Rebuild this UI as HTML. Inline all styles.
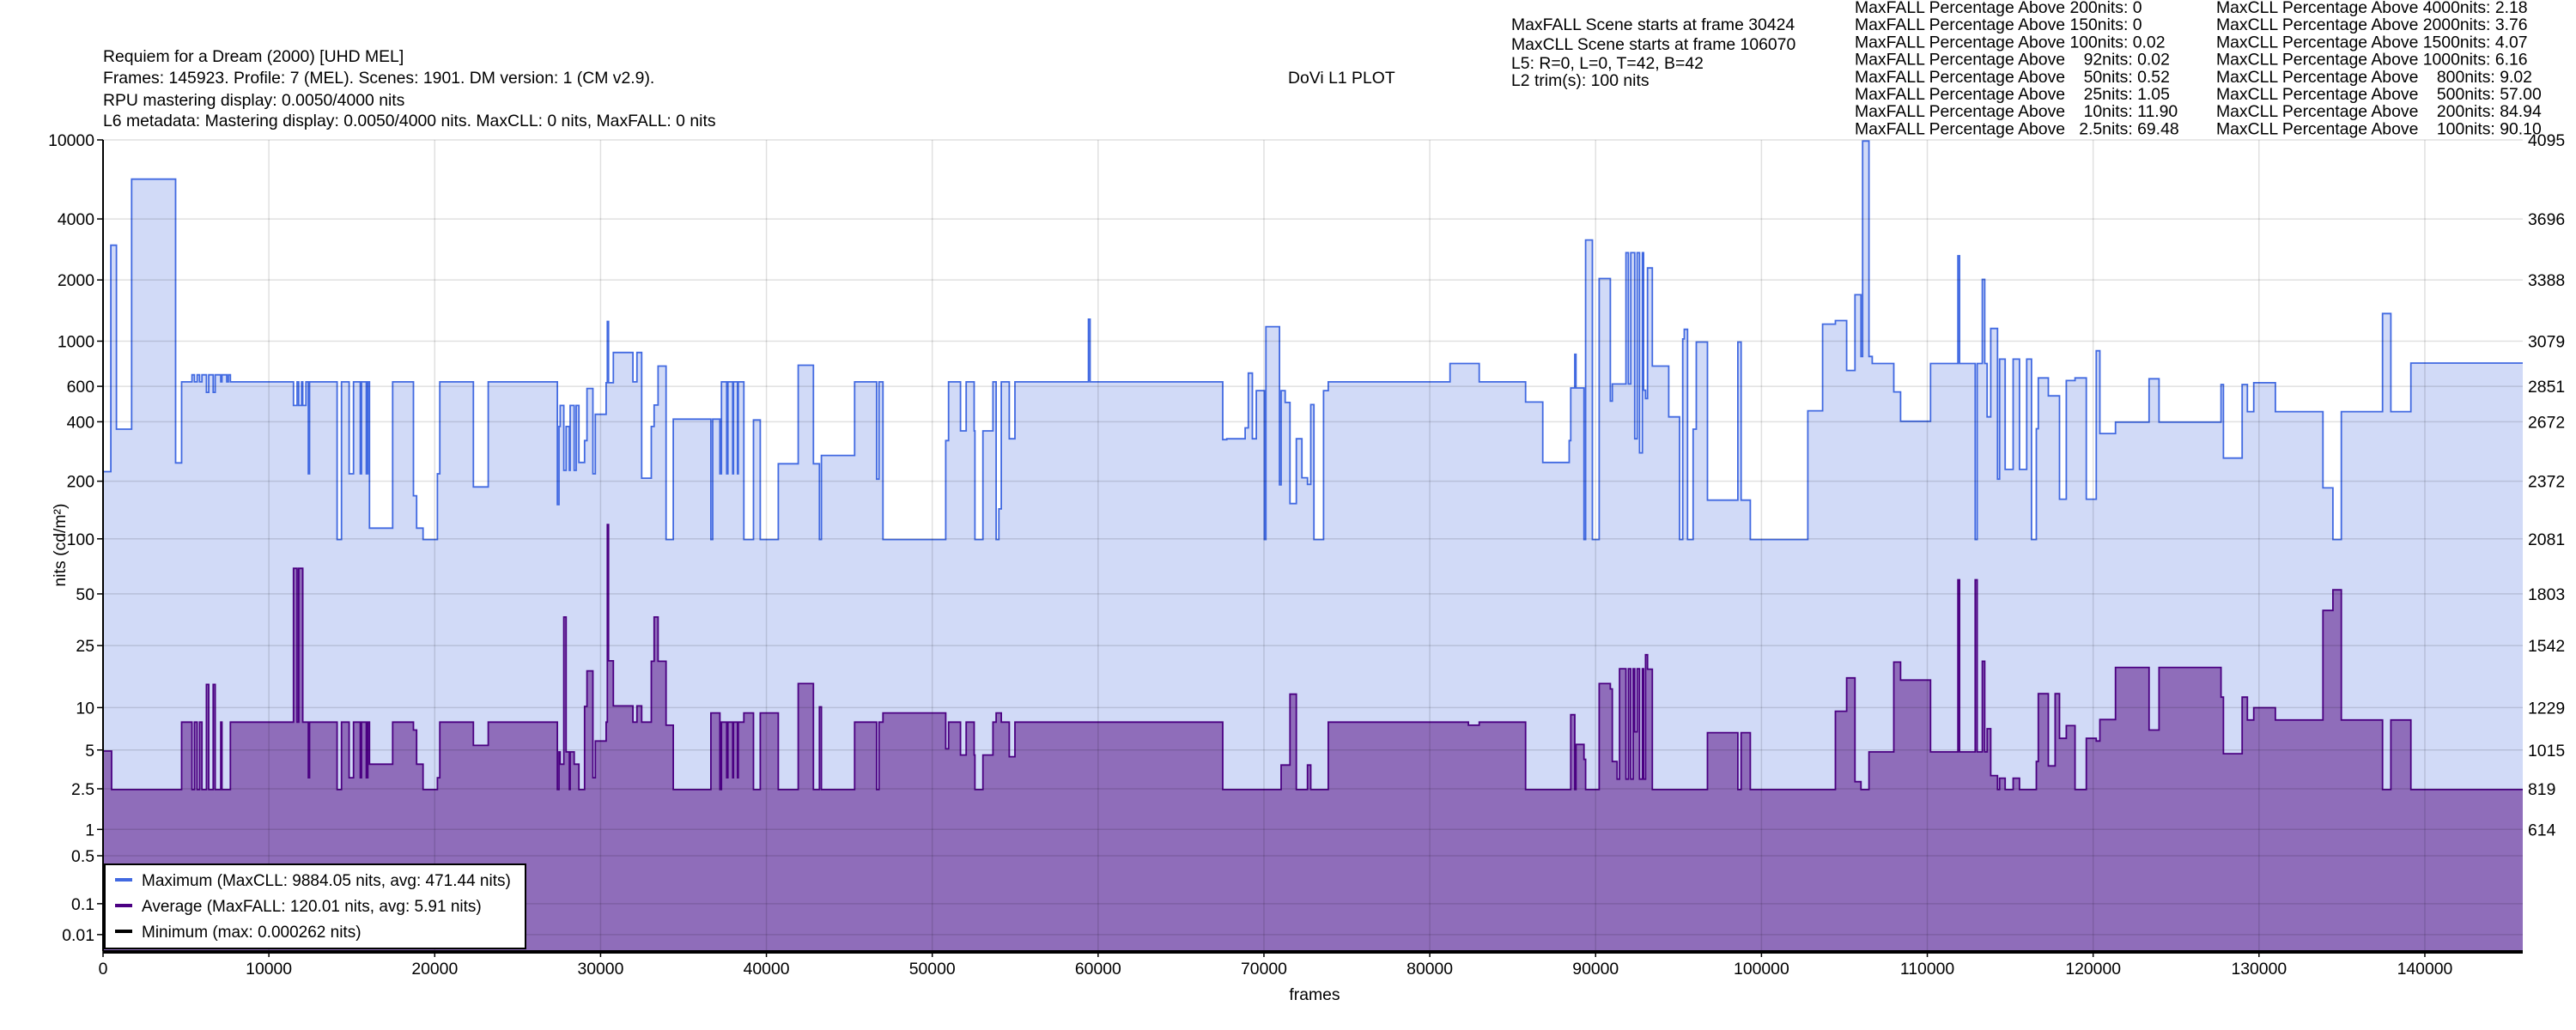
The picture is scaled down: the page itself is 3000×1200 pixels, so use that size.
<!DOCTYPE html>
<html><head><meta charset="utf-8"><style>
html,body{margin:0;padding:0;background:#fff;}
svg{display:block;font-family:"Liberation Sans",Arial,sans-serif;}
</style></head><body>
<svg id="s" width="3000" height="1200" viewBox="0 0 3000 1200" xmlns="http://www.w3.org/2000/svg">
<rect width="3000" height="1200" fill="#fff"/>
<g id="data"></g>
<g id="grid"></g>
<g id="axes"></g>
<g font-size="19.4" fill="#000">
<text x="120" y="72">Requiem for a Dream (2000) [UHD MEL]</text>
<text x="120" y="97">Frames: 145923. Profile: 7 (MEL). Scenes: 1901. DM version: 1 (CM v2.9).</text>
<text x="120" y="123">RPU mastering display: 0.0050/4000 nits</text>
<text x="120" y="147">L6 metadata: Mastering display: 0.0050/4000 nits. MaxCLL: 0 nits, MaxFALL: 0 nits</text>
<text x="1500" y="97">DoVi L1 PLOT</text>
<text x="1760" y="35">MaxFALL Scene starts at frame 30424</text>
<text x="1760" y="58">MaxCLL Scene starts at frame 106070</text>
<text x="1760" y="80">L5: R=0, L=0, T=42, B=42</text>
<text x="1760" y="100">L2 trim(s): 100 nits</text>
</g>
<g font-size="19.4" fill="#000" id="stats"></g>
<g id="legend">
<rect x="122" y="1007" width="490" height="98" fill="#fff" stroke="#000" stroke-width="2"/>
<line x1="134" y1="1025" x2="154" y2="1025" stroke="#4169e1" stroke-width="4"/>
<line x1="134" y1="1055" x2="154" y2="1055" stroke="#4b0082" stroke-width="4"/>
<line x1="134" y1="1085" x2="154" y2="1085" stroke="#000" stroke-width="4"/>
<text x="165" y="1032" font-size="19">Maximum (MaxCLL: 9884.05 nits, avg: 471.44 nits)</text>
<text x="165" y="1062" font-size="19">Average (MaxFALL: 120.01 nits, avg: 5.91 nits)</text>
<text x="165" y="1092" font-size="19">Minimum (max: 0.000262 nits)</text>
</g>
<text x="1531" y="1165" font-size="19.4" text-anchor="middle">frames</text>
<text transform="translate(76,635) rotate(-90)" font-size="19.4" text-anchor="middle">nits (cd/m²)</text>
</svg>
<script>
(function(){
var NS="http://www.w3.org/2000/svg";
function el(p,t,a,txt){var e=document.createElementNS(NS,t);for(var k in a)e.setAttribute(k,a[k]);if(txt!=null)e.textContent=txt;p.appendChild(e);return e;}
var L=120,R=2938,T=163,B=1108,H=945;
function yc(c){return T+(4095-c)/4095*H;}
var ticks=[["10000",4095,1],["4000",3696,1],["2000",3388,1],["1000",3079,1],["600",2851,1],["400",2672,1],["200",2372,1],["100",2081,1],["50",1803,1],["25",1542,1],["10",1229,1],["5",1015,1],["2.5",819,1],["1",614,1],["0.5",481,0],["0.1",239,0],["0.01",83,0]];
var grid=document.getElementById("grid"),axes=document.getElementById("axes");
ticks.forEach(function(t){var y=yc(t[1]);
 el(grid,"line",{x1:L,x2:R,y1:y,y2:y,stroke:"rgba(0,0,0,0.12)","stroke-width":1.5});
 el(axes,"line",{x1:L-7,x2:L,y1:y,y2:y,stroke:"#000","stroke-width":1.5});
 el(axes,"text",{x:L-10,y:y+7,"font-size":19.4,"text-anchor":"end"},t[0]);
 if(t[2])el(axes,"text",{x:2944,y:y+7,"font-size":19.4},String(t[1]));
});
for(var k=0;k<=14;k++){var x=L+k*193.14;
 el(grid,"line",{x1:x,x2:x,y1:T,y2:B,stroke:"rgba(0,0,0,0.12)","stroke-width":1.5});
 el(axes,"line",{x1:x,x2:x,y1:B,y2:B+7,stroke:"#000","stroke-width":1.5});
 el(axes,"text",{x:x,y:B+27,"font-size":19.4,"text-anchor":"middle"},String(k*10000));
}
el(axes,"line",{x1:L,x2:L,y1:T,y2:B,stroke:"#000","stroke-width":2});
el(axes,"line",{x1:L,x2:R,y1:B+1,y2:B+1,stroke:"#000","stroke-width":4});
var st=document.getElementById("stats");
var a=["MaxFALL Percentage Above 200nits: 0","MaxFALL Percentage Above 150nits: 0","MaxFALL Percentage Above 100nits: 0.02","MaxFALL Percentage Above \u00a0\u00a0\u00a092nits: 0.02","MaxFALL Percentage Above \u00a0\u00a0\u00a050nits: 0.52","MaxFALL Percentage Above \u00a0\u00a0\u00a025nits: 1.05","MaxFALL Percentage Above \u00a0\u00a0\u00a010nits: 11.90","MaxFALL Percentage Above \u00a0\u00a02.5nits: 69.48"];
var b=["MaxCLL Percentage Above 4000nits: 2.18","MaxCLL Percentage Above 2000nits: 3.76","MaxCLL Percentage Above 1500nits: 4.07","MaxCLL Percentage Above 1000nits: 6.16","MaxCLL Percentage Above \u00a0\u00a0\u00a0800nits: 9.02","MaxCLL Percentage Above \u00a0\u00a0\u00a0500nits: 57.00","MaxCLL Percentage Above \u00a0\u00a0\u00a0200nits: 84.94","MaxCLL Percentage Above \u00a0\u00a0\u00a0100nits: 90.10"];
for(var i=0;i<8;i++){var y=15+i*20.2;el(st,"text",{x:2160,y:y},a[i]);el(st,"text",{x:2581,y:y},b[i]);}
var P1=[[21,783,1421],[41,266,1421],[43,266,1509],[55,686,1509],[93,115,1509],[203,763,1509],[218,578,1355],[244,562,1509],[250,578,1355],[257,562,1509],[263,578,1355],[269,562,1509],[280,602,1269],[286,562,1509],[297,602,1269],[302,562,1509],[316,578,1355],[319,562,1509],[331,578,1509],[335,562,1509],[340,578,1355],[498,632,1004],[507,578,1355],[511,632,1004],[518,578,1004],[521,632,1355],[529,578,1355],[535,788,1482],[538,578,1355],[607,938,1509],[618,578,1355],[637,788,1482],[648,578,1355],[665,788,1482],[668,578,1355],[680,788,1482],[684,578,1355],[688,912,1451],[746,578,1355],[798,838,1373],[806,912,1451],[822,938,1509],[858,788,1482],[864,578,1355],[948,818,1408],[985,578,1355],[1158,858,1509],[1162,680,1423],[1165,632,1451],[1174,780,1115],[1180,680,1423],[1188,780,1509],[1190,632,1423],[1200,780,1451],[1205,632,1451],[1212,762,1509],[1226,712,1319],[1232,593,1238],[1247,788,1482],[1253,652,1398],[1280,580,1355],[1283,440,904],[1286,580,1215],[1298,511,1318],[1347,578,1355],[1357,511,1318],[1369,798,1355],[1393,680,1216],[1400,631,1115],[1410,542,1216],[1430,938,1362],[1448,663,1509],[1542,938,1334]];
var P2=[[0,663,1334],[18,788,1509],[22,578,1355],[35,788,1482],[38,578,1355],[50,788,1482],[52,578,1355],[62,788,1482],[64,578,1355],[78,938,1334],[102,665,1509],[119,938,1334],[164,765,1509],[214,540,1267],[252,765,1509],[267,938,1320],[272,746,1509],[355,578,1355],[410,800,1509],[416,578,1355],[426,938,1334],[583,712,1416],[590,578,1355],[620,690,1430],[634,578,1355],[654,690,1430],[656,938,1509],[676,690,1430],[701,578,1355],[709,938,1334],[716,868,1334],[722,578,1355],[742,708,1434],[756,578,1355],[940,435,1355],[944,578,1355],[1276,710,1509],[1286,708,1509],[1332,683,1509],[1340,558,1509],[1350,708,1509],[1360,598,1509],[1380,938,1509],[1384,452,1509],[1418,813,1509],[1422,598,1453],[1432,625,1453],[1444,856,1291],[1460,708,1509],[1474,797,1509],[1488,812,1453],[1496,630,1509],[1504,938,1509],[1528,598,1509],[1540,578,1355]];
var P3=[[0,578,1355],[298,536,1355],[344,536,1362],[371,578,1355],[487,624,1509],[510,624,1509],[530,762,1509],[596,712,1509],[600,592,1338],[610,515,1509],[613,592,1406],[633,938,1440],[637,254,1509],[654,938,1509],[671,342,1267],[699,622,1279],[704,583,1445],[716,583,1485],[722,583,1233],[738,283,1485],[744,583,1233],[750,283,1485],[756,283,1233],[760,708,1377],[766,283,1233],[772,740,1485],[779,283,1233],[782,597,1485],[787,616,1201],[792,318,1234],[804,542,1509],[845,658,1509],[872,938,1509],[880,480,1509],[884,458,1509],[892,938,1509],[906,686,1509],[914,487,1509],[942,848,1379],[1018,487,1509],[1026,848,1379],[1049,938,1509],[1193,644,1509],[1216,644,1509],[1230,446,1509],[1262,438,1330],[1290,552,1254],[1311,379,1491],[1326,520,1509],[1330,28,1509],[1346,520,1423],[1354,536,1423],[1408,601,1218],[1425,668,1259],[1500,536,1423],[1565,472,1331]];
var P4=[[0,536,1423],[22,290,1030],[26,536,1423],[65,938,1030],[70,536,1423],[83,344,1216],[89,536,1423],[95,658,1370],[104,456,1477],[121,800,1509],[126,526,1483],[140,778,1509],[160,526,1483],[176,778,1509],[194,526,1509],[206,938,1509],[218,685,1445],[223,569,1290],[248,610,1455],[265,610,1290],[276,846,1392],[293,575,1363],[315,569,1509],[343,846,1392],[368,507,1398],[377,696,1349],[416,670,1230],[500,571,1373],[525,670,1230],[680,584,1298],[686,752,1427],[712,752,1427],[733,584,1298],[746,646,1350],[762,580,1322],[816,646,1350],[855,646,1350],[935,820,1100],[960,938,1053],[981,646,1350],[1084,422,1509],[1105,646,1350],[1155,535,1509]];
var panels=[[110,P1,830],[830,P2,1550],[1550,P3,2270],[2270,P4,9999]];
var pts=[];
panels.forEach(function(p){p[1].forEach(function(d){var x=p[0]+d[0]/2.148;if(x<p[2]&&x>=L-1)pts.push([Math.max(L,x),150+d[1]/1.96,150+d[2]/1.96]);});});
pts.sort(function(a,b){return a[0]-b[0];});
function build(idx){var s="",f="M"+L+","+B;
 for(var i=0;i<pts.length;i++){var x0=pts[i][0],x1=(i+1<pts.length?pts[i+1][0]:R),y=pts[i][idx];
  s+=(i==0?"M":"L")+x0.toFixed(1)+","+y.toFixed(1)+"L"+x1.toFixed(1)+","+y.toFixed(1);
  f+="L"+x0.toFixed(1)+","+y.toFixed(1)+"L"+x1.toFixed(1)+","+y.toFixed(1);}
 f+="L"+R+","+B+"Z";return [s,f];}
var g=document.getElementById("data");
var m=build(1),av=build(2);
el(g,"path",{d:m[1],fill:"#d1daf7",stroke:"none"});
el(g,"path",{d:m[0],fill:"none",stroke:"#4169e1","stroke-width":1.8});
el(g,"path",{d:av[1],fill:"#8f6dba",stroke:"none"});
el(g,"path",{d:av[0],fill:"none",stroke:"#4b0082","stroke-width":1.8});
})();
</script>
</body></html>
